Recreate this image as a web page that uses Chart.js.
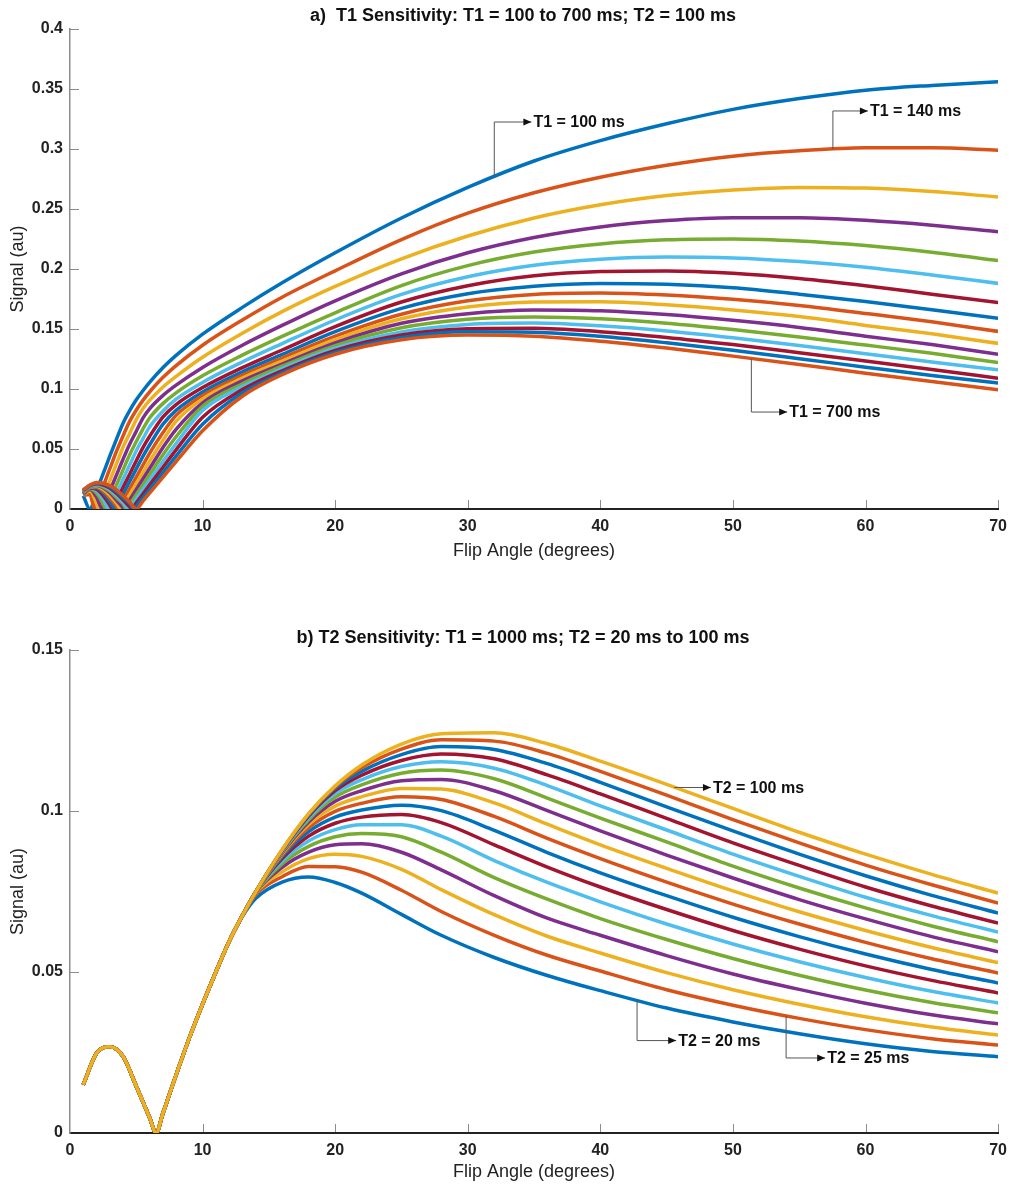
<!DOCTYPE html>
<html>
<head>
<meta charset="utf-8">
<script src="https://cdn.jsdelivr.net/npm/chart.js@4.4.1/dist/chart.umd.min.js"></script>
<style>
body { margin: 0; background: #fff; }
#wrap { position: relative; width: 1015px; height: 1186px; }
canvas { position: absolute; left: 0; }
</style>
</head>
<body>
<div id="wrap">
<canvas id="chartT1" width="1015" height="590" style="top:0px"></canvas>
<canvas id="chartT2" width="1015" height="596" style="top:590px"></canvas>
</div>
<script>
// ---- panel a) T1 sensitivity ----
var xT1 = [1, 1.5, 2, 2.5, 3, 3.5, 4, 4.5, 5, 5.5, 6, 7, 8, 10, 13, 16, 20, 25, 30, 35, 40, 45, 50, 55, 60, 65, 70];
var t1Values = [100, 140, 180, 220, 260, 300, 340, 380, 420, 460, 500, 540, 580, 620, 660, 700];
// flip angle where each curve touches zero
var zeroT1 = [1.5, 1.85, 2.16, 2.44, 2.71, 2.96, 3.2, 3.43, 3.65, 3.86, 4.07, 4.27, 4.46, 4.65, 4.83, 5.0];

var s100 = [.011, 0, .0147, .0294, .044, .058, .0715, .082, .091, .0985, .1055, .1177, .128, .1457, .168, .1885, .2135, .2425, .268, .290, .307, .321, .333, .342, .349, .353, .356];
var s140 = [.0114, .0121, .0044, .0189, .0334, .0479, .0609, .073, .0825, .0905, .0975, .1095, .1195, .1365, .1575, .1765, .1985, .2245, .2465, .2635, .2765, .2865, .294, .2985, .301, .301, .299];
var s180 = [.0117, .015, .0046, .0095, .0235, .0375, .0515, .063, .0745, .0835, .0905, .1015, .1105, .1265, .1465, .1645, .1855, .2085, .2275, .2425, .2535, .2612, .2659, .268, .2674, .2645, .260];
var s220 = [.012, .0163, .0099, .0016, .0149, .0282, .0415, .054, .0648, .0757, .0835, .0945, .1032, .118, .1365, .153, .1735, .196, .2135, .2262, .235, .2404, .2428, .2427, .2406, .2365, .231];
var s260 = [.0123, .0168, .0132, .0043, .0073, .0199, .0326, .0452, .0563, .0666, .0758, .0878, .0968, .111, .1282, .1438, .1635, .1862, .2028, .2141, .2209, .2243, .225, .2233, .2195, .214, .207];
var s300 = [.0126, .0174, .0152, .0082, .001, .0128, .0247, .0366, .0485, .0585, .0683, .0815, .0915, .1055, .1225, .1378, .1575, .1788, .1935, .2031, .2082, .21, .2092, .2062, .2015, .195, .188];
var s340 = [.013, .0175, .0164, .0111, .0034, .0067, .0179, .029, .0402, .0511, .0604, .0765, .087, .1012, .1178, .1325, .152, .1725, .186, .1943, .1979, .1984, .1964, .192, .186, .179, .172];
var s380 = [.0134, .0178, .0174, .0135, .0066, .0015, .012, .0229, .0334, .0439, .0533, .0705, .0822, .0975, .1143, .1288, .1478, .1672, .1794, .1856, .188, .1873, .1844, .179, .173, .166, .159];
var s420 = [.0137, .018, .0184, .0151, .0092, .0022, .0069, .0168, .0266, .0365, .0464, .0636, .078, .0945, .1115, .1258, .144, .1623, .1735, .1788, .18, .1783, .1747, .1696, .163, .156, .148];
var s460 = [.014, .0182, .0189, .0165, .0115, .005, .0026, .0119, .0211, .0304, .0397, .0571, .073, .0918, .109, .1232, .1412, .1585, .1684, .1725, .1727, .1702, .1659, .1604, .153, .146, .138];
var s500 = [.0144, .0185, .0195, .0177, .0135, .0075, .0009, .0075, .0163, .025, .0337, .0511, .0664, .0885, .1068, .1208, .1385, .1548, .1628, .1659, .1652, .162, .1572, .1513, .144, .137, .129];
var s540 = [.0147, .0187, .02, .0185, .015, .0096, .0044, .0038, .012, .0203, .0285, .045, .0602, .0855, .1043, .119, .1362, .151, .1581, .16, .1585, .1548, .1495, .1433, .1366, .1297, .122];
var s580 = [.015, .019, .0205, .0193, .0162, .0114, .0056, .0006, .0084, .0162, .0239, .0395, .0546, .0822, .102, .117, .134, .1476, .1538, .155, .1527, .1484, .1427, .1363, .1294, .1225, .116];
var s620 = [.0153, .0194, .021, .02, .0175, .0131, .0077, .0018, .0051, .0125, .0199, .0346, .0493, .0765, .0995, .1152, .1322, .145, .1503, .1507, .1478, .143, .137, .1303, .1234, .1163, .109];
var s660 = [.0157, .0197, .0215, .0209, .0185, .0146, .0094, .0045, .0024, .0093, .0163, .0302, .0441, .0706, .0968, .1135, .1305, .143, .1477, .1473, .1439, .1385, .1322, .1253, .1182, .1112, .105];
var s700 = [.016, .02, .022, .0215, .0195, .016, .011, .0057, 0, .0066, .0132, .0264, .0395, .0652, .094, .112, .129, .141, .1449, .1439, .1398, .1341, .1274, .1204, .1132, .1062, .0993];
var seriesT1 = [s100, s140, s180, s220, s260, s300, s340, s380, s420, s460, s500, s540, s580, s620, s660, s700];

// ---- panel b) T2 sensitivity ----
var xT2 = [1, 2, 3, 4, 5, 6, 6.5, 7, 8, 9, 10, 11, 12, 13, 14, 16, 18, 20, 22, 25, 28, 32, 36, 40, 45, 50, 55, 60, 65, 70];
var t2Values = [20, 25, 30, 35, 40, 45, 50, 55, 60, 65, 70, 75, 80, 85, 90, 95, 100];
// shared part of all curves, flip angle 1 to 11
var lowT2 = [.015, .0248, .0268, .0238, .0145, .0048, 0, .006, .018, .0295, .040, .050];
// flip angle 12 to 70
var r20  = [.0595, .0672, .0728, .0779, .0795, .0778, .0745, .0679, .0614, .0545, .0489, .0442, .0388, .0345, .0308, .0277, .0253, .0237];
var r25  = [.0595, .0675, .0740, .0796, .0828, .0827, .0810, .0754, .0688, .0614, .0552, .0503, .0445, .0397, .0356, .0321, .0293, .0273];
var r30  = [.0595, .0675, .0745, .0811, .0852, .0866, .0859, .0819, .0756, .0678, .0611, .0559, .0498, .0445, .0400, .0361, .0329, .0304];
var r35  = [.0595, .0675, .0747, .0825, .0872, .0895, .0898, .0872, .0817, .0737, .0667, .0614, .0551, .0494, .0446, .0403, .0367, .0339];
var r40  = [.0595, .0675, .0747, .0836, .0890, .0920, .0930, .0920, .0872, .0793, .0726, .0666, .0601, .0542, .0490, .0444, .0405, .0373];
var r45  = [.0595, .0675, .0748, .0845, .0907, .0942, .0957, .0957, .0922, .0846, .0778, .0718, .0649, .0587, .0532, .0483, .0440, .0404];
var r50  = [.0595, .0675, .0748, .0852, .0922, .0962, .0981, .0989, .0964, .0895, .0826, .0764, .0694, .0629, .0571, .0519, .0474, .0435];
var r55  = [.0595, .0675, .0748, .0858, .0936, .0981, .1003, .1018, .1001, .0940, .0871, .0808, .0737, .0670, .0610, .0556, .0508, .0466];
var r60  = [.0595, .0675, .0748, .0863, .0948, .0999, .1024, .1044, .1036, .0983, .0915, .0852, .0779, .0711, .0649, .0592, .0541, .0497];
var r65  = [.0595, .0675, .0748, .0867, .0958, .1015, .1044, .1070, .1068, .1025, .0959, .0895, .0822, .0752, .0687, .0629, .0576, .0529];
var r70  = [.0595, .0675, .0748, .0870, .0966, .1030, .1063, .1094, .1098, .1063, .1001, .0938, .0863, .0792, .0725, .0665, .0610, .0563];
var r75  = [.0595, .0675, .0748, .0873, .0973, .1043, .1081, .1117, .1127, .1100, .1040, .0978, .0904, .0829, .0761, .0699, .0643, .0594];
var r80  = [.0595, .0675, .0748, .0875, .0979, .1054, .1097, .1138, .1153, .1133, .1079, .1016, .0941, .0866, .0797, .0732, .0675, .0624];
var r85  = [.0595, .0675, .0748, .0877, .0984, .1063, .1111, .1157, .1177, .1162, .1112, .1053, .0977, .0901, .0831, .0764, .0705, .0652];
var r90  = [.0595, .0675, .0748, .0878, .0987, .1070, .1123, .1175, .1200, .1191, .1147, .1089, .1013, .0938, .0866, .0799, .0738, .0683];
var r95  = [.0595, .0675, .0748, .0879, .0990, .1075, .1134, .1192, .1221, .1217, .1179, .1123, .1049, .0973, .0901, .0832, .0771, .0714];
var r100 = [.0595, .0675, .0748, .0880, .0992, .1078, .1143, .1208, .1240, .1243, .1209, .1155, .1083, .1008, .0934, .0866, .0803, .0745];
var seriesT2 = [r20, r25, r30, r35, r40, r45, r50, r55, r60, r65, r70, r75, r80, r85, r90, r95, r100];

var matlabColors = ['#0072BD', '#D95319', '#EDB120', '#7E2F8E', '#77AC30', '#4DBEEE', '#A2142F'];
var fontName = '"Liberation Sans", Arial, sans-serif';

function pointsT1(ys, zero) {
    var pts = [];
    var added = false;
    for (var i = 0; i < xT1.length; i++) {
        if (!added && zero <= xT1[i]) {
            pts.push({x: zero, y: 0});
            added = true;
            if (zero == xT1[i]) continue;
        }
        pts.push({x: xT1[i], y: ys[i]});
    }
    return pts;
}

function pointsT2(rest) {
    var ys = lowT2.concat(rest);
    return xT2.map(function(x, i) { return {x: x, y: ys[i]}; });
}

// tick marks drawn inside the axes, like the original figure
var innerTicks = {
    id: 'innerTicks',
    afterDraw: function(chart) {
        var ctx = chart.ctx, a = chart.chartArea;
        var xs = chart.scales.x, ys = chart.scales.y;
        ctx.save();
        ctx.strokeStyle = '#8c8c8c';
        ctx.lineWidth = 1;
        ys.ticks.forEach(function(t) {
            if (t.value == 0) return;
            var py = Math.round(ys.getPixelForValue(t.value)) + 0.5;
            ctx.beginPath(); ctx.moveTo(a.left, py); ctx.lineTo(a.left + 9, py); ctx.stroke();
        });
        xs.ticks.forEach(function(t) {
            if (t.value == 0) return;
            var px = Math.round(xs.getPixelForValue(t.value)) + 0.5;
            ctx.beginPath(); ctx.moveTo(px, a.bottom - 1); ctx.lineTo(px, a.bottom - 9); ctx.stroke();
        });
        ctx.restore();
    }
};

// arrows with labels
var callouts = {
    id: 'callouts',
    afterDatasetsDraw: function(chart, args, opts) {
        var ctx = chart.ctx, xs = chart.scales.x, ys = chart.scales.y;
        ctx.save();
        (opts.items || []).forEach(function(it) {
            var px = it.path.map(function(p) { return [xs.getPixelForValue(p[0]), ys.getPixelForValue(p[1])]; });
            ctx.strokeStyle = '#555';
            ctx.lineWidth = 1;
            ctx.beginPath();
            ctx.moveTo(px[0][0], px[0][1]);
            for (var i = 1; i < px.length; i++) ctx.lineTo(px[i][0], px[i][1]);
            ctx.stroke();
            var tip = px[px.length - 1];
            ctx.fillStyle = '#111';
            ctx.beginPath();
            ctx.moveTo(tip[0], tip[1]);
            ctx.lineTo(tip[0] - 8, tip[1] - 3.5);
            ctx.lineTo(tip[0] - 8, tip[1] + 3.5);
            ctx.closePath();
            ctx.fill();
            ctx.font = 'bold 16px ' + fontName;
            ctx.textAlign = 'left';
            ctx.textBaseline = 'middle';
            ctx.fillText(it.text, tip[0] + 2, tip[1] + 1);
        });
        ctx.restore();
    }
};

var panelTitle = {
    id: 'panelTitle',
    afterDraw: function(chart, args, opts) {
        var ctx = chart.ctx;
        ctx.save();
        ctx.font = 'bold 18px ' + fontName;
        ctx.fillStyle = '#111';
        ctx.textAlign = 'center';
        ctx.textBaseline = 'middle';
        ctx.fillText(opts.text, opts.x, opts.y);
        ctx.restore();
    }
};

function makeOptions(yMax, padTop, xHeight, titleBottom, title, items) {
    return {
        responsive: false,
        animation: false,
        events: [],
        layout: { padding: { top: padTop, right: 11, left: 0, bottom: 0 } },
        elements: { point: { radius: 0 }, line: { borderWidth: 3.5, cubicInterpolationMode: 'monotone' } },
        plugins: {
            legend: { display: false },
            tooltip: { enabled: false },
            callouts: { items: items },
            panelTitle: title
        },
        scales: {
            x: {
                type: 'linear', min: 0, max: 70,
                afterFit: function(s) { s.height = xHeight; },
                ticks: { stepSize: 10, padding: 8, color: '#222', font: { family: fontName, size: 16, weight: 'bold' } },
                grid: { display: true, drawOnChartArea: false, drawTicks: false },
                border: { color: '#222', width: 2 },
                title: { display: true, text: 'Flip Angle (degrees)', color: '#222', padding: { bottom: titleBottom }, font: { family: fontName, size: 18 } }
            },
            y: {
                min: 0, max: yMax,
                afterFit: function(s) { s.width = 70; },
                ticks: { stepSize: 0.05, padding: 7, color: '#222', font: { family: fontName, size: 16, weight: 'bold' },
                    callback: function(v) { return String(+v.toFixed(2)); } },
                grid: { display: true, drawOnChartArea: false, drawTicks: false },
                border: { color: '#8c8c8c', width: 1.5 },
                title: { display: true, text: 'Signal (au)', color: '#222', padding: { top: 7 }, font: { family: fontName, size: 18 } }
            }
        }
    };
}

window.onload = function() {
    var dsT1 = seriesT1.map(function(ys, i) {
        return { label: 'T1 = ' + t1Values[i] + ' ms', data: pointsT1(ys, zeroT1[i]),
            borderColor: matlabColors[i % 7], backgroundColor: matlabColors[i % 7], order: -i };
    });
    new Chart(document.getElementById('chartT1').getContext('2d'), {
        type: 'line',
        data: { datasets: dsT1 },
        options: makeOptions(0.4, 29, 81, 28,
            { text: 'a)  T1 Sensitivity: T1 = 100 to 700 ms; T2 = 100 ms', x: 523, y: 16 },
            [
                { path: [[32.0, .2768], [32.0, .3225], [34.8, .3225]], text: 'T1 = 100 ms' },
                { path: [[57.54, .2998], [57.54, .3317], [60.18, .3317]], text: 'T1 = 140 ms' },
                { path: [[51.39, .1252], [51.39, .0808], [54.09, .0808]], text: 'T1 = 700 ms' }
            ]),
        plugins: [innerTicks, callouts, panelTitle]
    });

    var dsT2 = seriesT2.map(function(rest, i) {
        return { label: 'T2 = ' + t2Values[i] + ' ms', data: pointsT2(rest),
            borderColor: matlabColors[i % 7], backgroundColor: matlabColors[i % 7], order: -i };
    });
    new Chart(document.getElementById('chartT2').getContext('2d'), {
        type: 'line',
        data: { datasets: dsT2 },
        options: makeOptions(0.15, 60, 53, 3,
            { text: 'b) T2 Sensitivity: T1 = 1000 ms; T2 = 20 ms to 100 ms', x: 523, y: 48 },
            [
                { path: [[45.57, .1073], [48.34, .1073]], text: 'T2 = 100 ms' },
                { path: [[42.77, .0411], [42.77, .0287], [45.72, .0287]], text: 'T2 = 20 ms' },
                { path: [[54.01, .0364], [54.01, .0233], [56.96, .0233]], text: 'T2 = 25 ms' }
            ]),
        plugins: [innerTicks, callouts, panelTitle]
    });
};
</script>
</body>
</html>
